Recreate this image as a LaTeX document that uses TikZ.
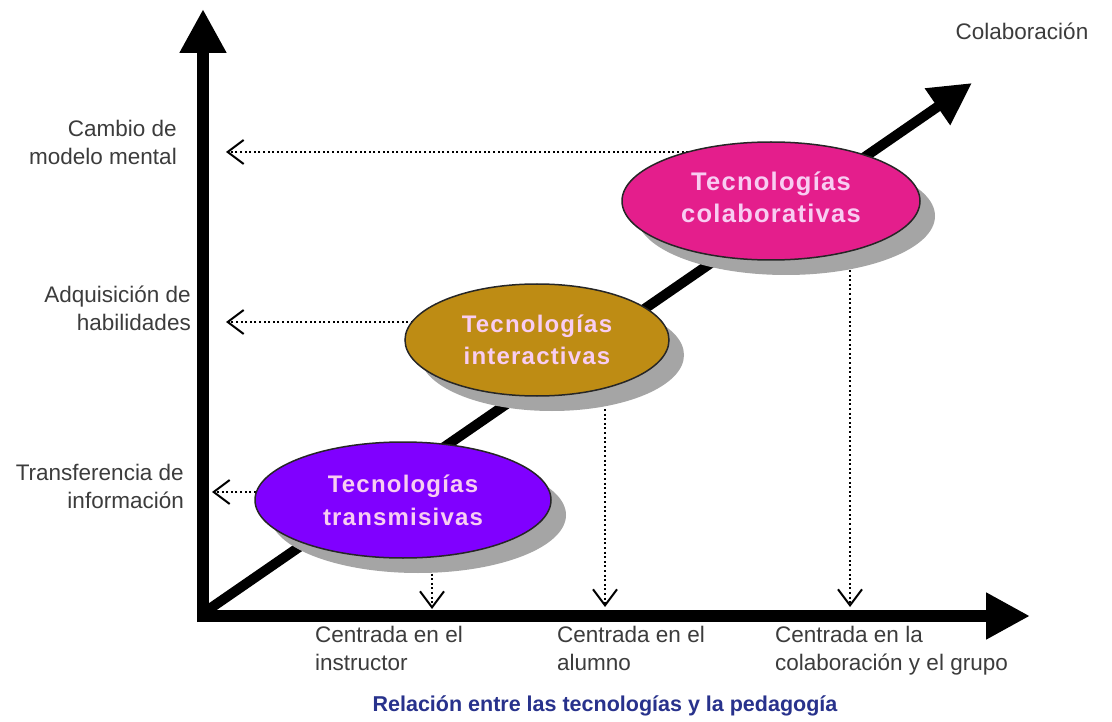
\documentclass[tikz,border=0pt]{standalone}
\usepackage{fontspec}
\setmainfont{Liberation Sans}
\newfontfamily\elfont[LetterSpace=5]{Liberation Sans}
\usetikzlibrary{arrows.meta,shapes.geometric,shadows}
\definecolor{purpC}{RGB}{128,0,255}
\definecolor{goldC}{RGB}{190,140,20}
\definecolor{pinkC}{RGB}{228,30,140}
\definecolor{elText}{RGB}{248,205,242}
\definecolor{labC}{RGB}{60,60,60}
\definecolor{titleC}{RGB}{40,50,140}
\definecolor{shadC}{RGB}{165,165,165}
\begin{document}
\begin{tikzpicture}[x=1pt,y=-1pt,
  lab/.style={text=labC, font={\fontsize{22.5}{28}\selectfont}, inner sep=0pt},
  axisarrow/.style={line width=12pt, -{Triangle[length=44pt,width=44pt]}},
  diagarrow/.style={line width=10pt, -{Triangle[length=42pt,width=42pt]}},
  dotarr/.style={line width=2.2pt, dash pattern=on 2pt off 2.6pt,
    -{Straight Barb[length=16pt,width=24pt,line width=2pt]}},
  tech/.style={ellipse, draw=black!85, line width=1.5pt, inner sep=0pt,
    text=elText, align=center,
    drop shadow={shadow xshift=15pt, shadow yshift=-15pt, fill=shadC, opacity=1}},
]
\useasboundingbox[fill=white] (0,0) rectangle (1112,722);

% axes
\coordinate (O) at (203,616);
\coordinate (ytip) at (203,9);
\coordinate (xtip) at (1030,616);
\coordinate (dtip) at (972,83);
\draw[axisarrow] (203,622) -- (ytip);
\draw[axisarrow] (197,616) -- (xtip);
\draw[diagarrow] (205,612) -- (dtip);

% ellipse positions
\coordinate (c1) at (403,500);
\coordinate (c2) at (537,340);
\coordinate (c3) at (771,201);

% arrow ends
\coordinate (a3) at (226,152);
\coordinate (a2) at (226,322);
\coordinate (a1) at (212,492);
\coordinate (d1) at (432,609);
\coordinate (d2) at (605,607);
\coordinate (d3) at (850,607);

\draw[dotarr] (c3 |- a3) -- (a3);
\draw[dotarr] (c2 |- a2) -- (a2);
\draw[dotarr] (c1 |- a1) -- (a1);
\draw[dotarr] (c1 -| d1) -- (d1);
\draw[dotarr] (c2 -| d2) -- (d2);
\draw[dotarr] (c3 -| d3) -- (d3);

% ellipses
\node[tech, fill=purpC, minimum width=296pt, minimum height=116pt,
  font={\elfont\bfseries\fontsize{24}{33}\selectfont}] (t1) at (c1)
  {Tecnologías\\transmisivas};
\node[tech, fill=goldC, minimum width=264pt, minimum height=112pt,
  font={\elfont\bfseries\fontsize{24}{32}\selectfont}] (t2) at (c2)
  {Tecnologías\\interactivas};
\node[tech, fill=pinkC, minimum width=298pt, minimum height=118pt,
  font={\elfont\bfseries\fontsize{25.5}{32}\selectfont}] (t3) at (c3)
  {Tecnologías\\colaborativas\rule[-8pt]{0pt}{0pt}};

% labels
\node[lab, anchor=east, align=right] (l3) at (177,142) {Cambio de\\modelo mental};
\node[lab, anchor=east, align=right] (l2) at (191,308) {Adquisición de\\habilidades};
\node[lab, anchor=east, align=right] (l1) at (184,486) {Transferencia de\\información};
\node[lab, anchor=north west, align=left] (b1) at (315,626) {Centrada en el\\instructor};
\node[lab, anchor=north west, align=left] (b2) at (557,626) {Centrada en el\\alumno};
\node[lab, anchor=north west, align=left] (b3) at (775,626) {Centrada en la\\colaboración y el grupo};
\node[lab] (col) at (1022,31) {Colaboración};
\node[text=titleC, font={\bfseries\fontsize{21.5}{24}\selectfont}, inner sep=0pt] (title) at (605,706)
  {Relación entre las tecnologías y la pedagogía};
\end{tikzpicture}
\end{document}
